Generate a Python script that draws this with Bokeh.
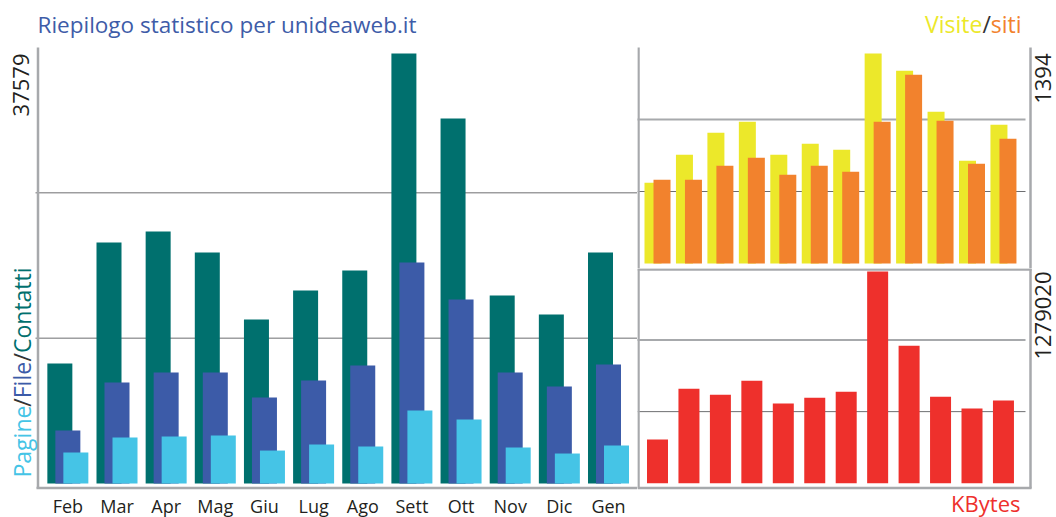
import math
from bokeh.plotting import figure
from bokeh.layouts import row, column
from bokeh.models import Range1d, Label, ColumnDataSource
from bokeh.transform import dodge
from bokeh.core.properties import value
from bokeh.embed import file_html
from bokeh.resources import INLINE

# ---------------- data ----------------
months = ["Feb", "Mar", "Apr", "Mag", "Giu", "Lug", "Ago", "Sett", "Ott", "Nov", "Dic", "Gen"]
contatti = [10490, 21060, 22030, 20190, 14330, 16870, 18620, 37579, 31900, 16430, 14770, 20190]
file_hits = [4630, 8830, 9700, 9700, 7520, 9000, 10310, 19320, 16080, 9700, 8480, 10400]
pagine = [2710, 4020, 4110, 4200, 2880, 3410, 3230, 6380, 5590, 3150, 2620, 3320]
visite = [536, 722, 868, 941, 722, 795, 755, 1394, 1279, 1007, 682, 921]
siti = [556, 556, 649, 702, 589, 649, 609, 941, 1253, 947, 662, 828]
kbytes = [263600, 571300, 535100, 619600, 480800, 517000, 553200, 1279020, 830700, 523000, 450700, 498900]

title_text = "Riepilogo statistico per unideaweb.it"
left_legend = ["Pagine", "/", "File", "/", "Contatti"]
right_legend = ["Visite", "/", "siti"]

# ---------------- style ----------------
FONT = "Open Sans"
TXT = "#231f20"
AX = "#a7a9ac"
GRID_DARK = "#6d6e71"
GRID_LIGHT = "#a7a9ac"
C_CONT = "#00706e"
C_FILE = "#3c5ba8"
C_PAG = "#45c4e6"
C_VIS = "#ece82a"
C_SITI = "#f2822d"
C_KB = "#ee302c"
C_TITLE = "#3e5ca8"
C_SLASH = "#333333"
FS = 22.0        # numbers / KBytes
FS_TITLE = 22.5
FS_LEG = 23.0    # coloured legends
MS = 18.0        # month labels
SHIFT = 0.41     # observed baseline drop of rendered text, in em
# approximate Open Sans advance widths (units per em 2048) for chained coloured labels
ADV = {"Pagine": 6302, "/": 754, "File": 3272, "Contatti": 7604, "Visite": 5046, "siti": 2732}

idx = list(range(len(months)))


def mapper(p_a, v_a, p_b, v_b):
    k = (v_b - v_a) / (p_b - p_a)
    return lambda px: v_a + (px - p_a) * k


def base_fig(width, height, xr, yr):
    p = figure(width=width, height=height, x_range=xr, y_range=yr,
               x_axis_type=None, y_axis_type=None, min_border=0,
               output_backend="svg", toolbar_location=None)
    p.outline_line_color = None
    p.background_fill_color = "white"
    p.border_fill_color = "white"
    p.grid.visible = False
    return p


def seg(p, x0, y0, x1, y1, color, width):
    p.segment(x0=[x0], y0=[y0], x1=[x1], y1=[y1], line_color=color, line_width=width)


def lab(p, text, x, y, color, angle=0.0, align="left", size=FS):
    p.add_layout(Label(x=x, y=y, text=text, angle=angle,
                       text_align=align, text_baseline="alphabetic",
                       text_color=color, text_font=FONT, text_font_size=f"{size}px"))


# ---------------- left panel: Pagine / File / Contatti ----------------
# page pixels: figure spans x 0..637, y 0..517 ; panel frame x 37..637, y 47..487
fxL = mapper(67.35, 0, 67.35 + 11 * 49.15, 11)
fyL = mapper(483, 0, 53, max(contatti))
pl = base_fig(637, 517, Range1d(fxL(0), fxL(637)), Range1d(fyL(517), fyL(0)))

# gridlines at thirds between baseline and panel top
topL = fyL(47)
for k in (1, 2):
    seg(pl, fxL(35), topL * k / 3, fxL(637), topL * k / 3, GRID_DARK, 1)
# frame lines
seg(pl, fxL(37.5), fyL(47), fxL(37.5), fyL(488), AX, 2.5)
seg(pl, fxL(36), fyL(487.5), fxL(637), fyL(487.5), AX, 2.5)

pxL = 1.0 / 49.15
src_l = ColumnDataSource(dict(x=idx, contatti=contatti, file=file_hits, pagine=pagine))
pl.vbar(x=dodge("x", -8 * pxL), top="contatti", bottom=0, width=25 * pxL, source=src_l,
        fill_color=C_CONT, line_color=None)
pl.vbar(x="x", top="file", bottom=0, width=25 * pxL, source=src_l,
        fill_color=C_FILE, line_color=None)
pl.vbar(x=dodge("x", 8 * pxL), top="pagine", bottom=0, width=25 * pxL, source=src_l,
        fill_color=C_PAG, line_color=None)

pl.text(x=idx, y=[fyL(512.5 - SHIFT * MS)] * len(idx), text=months, text_align="center",
        text_baseline="alphabetic", text_color=TXT, text_font=value(FONT),
        text_font_size=value(f"{MS}px"))

lab(pl, title_text, fxL(37), fyL(33.5 - SHIFT * FS_TITLE), C_TITLE, size=FS_TITLE)
lab(pl, str(max(contatti)), fxL(30 - SHIFT * FS), max(contatti), TXT, angle=math.pi / 2, align="right")

left_colors = [C_PAG, C_SLASH, C_FILE, C_SLASH, C_CONT]
ypix = 477.0
for t, c in zip(left_legend, left_colors):
    lab(pl, t, fxL(30.5 - SHIFT * FS_LEG), fyL(ypix), c, angle=math.pi / 2, align="left", size=FS_LEG)
    ypix -= ADV[t] * FS_LEG / 2048.0

# ---------------- right panels ----------------
fxR = mapper(657, 0, 657 + 11 * 31.45, 11)
pxR = 1.0 / 31.45
xr = Range1d(fxR(637), fxR(1056))
src_r = ColumnDataSource(dict(x=idx, visite=visite, siti=siti, kbytes=kbytes))

# top: Visite / siti  (figure y 0..268, panel y 47..268)
fyT = mapper(263, 0, 53, max(visite))
pt = base_fig(419, 268, xr, Range1d(fyT(268), fyT(0)))
topT = fyT(47)
seg(pt, fxR(637), topT / 3, fxR(1025), topT / 3, GRID_DARK, 1)
seg(pt, fxR(635), topT * 2 / 3, fxR(1025), topT * 2 / 3, GRID_LIGHT, 2)
seg(pt, fxR(638), fyT(47), fxR(638), fyT(268), AX, 2.5)
seg(pt, fxR(1030), fyT(47), fxR(1030), fyT(268), AX, 2.5)

pt.vbar(x=dodge("x", -4.5 * pxR), top="visite", bottom=0, width=17 * pxR, source=src_r,
        fill_color=C_VIS, line_color=None)
pt.vbar(x=dodge("x", 4.5 * pxR), top="siti", bottom=0, width=17 * pxR, source=src_r,
        fill_color=C_SITI, line_color=None)

right_colors = [C_VIS, C_SLASH, C_SITI]
xpix = 1021.0
for t, c in reversed(list(zip(right_legend, right_colors))):
    lab(pt, t, fxR(xpix), fyT(33 - SHIFT * FS_LEG), c, align="right", size=FS_LEG)
    xpix -= ADV[t] * FS_LEG / 2048.0
lab(pt, str(max(visite)), fxR(1051.5 - SHIFT * FS), max(visite), TXT, angle=math.pi / 2, align="right")

# bottom: KBytes  (figure y 268..517, panel y 268..487)
fyB = mapper(482.7, 0, 271, max(kbytes))
pb = base_fig(419, 249, xr, Range1d(fyB(517), fyB(268)))
topB = fyB(268)
seg(pb, fxR(637), topB / 3, fxR(1025), topB / 3, GRID_DARK, 1)
seg(pb, fxR(635), topB * 2 / 3, fxR(1025), topB * 2 / 3, GRID_LIGHT, 2)
seg(pb, fxR(637), fyB(269), fxR(1031), fyB(269), AX, 2.5)
seg(pb, fxR(638), fyB(268), fxR(638), fyB(488), AX, 2.5)
seg(pb, fxR(1030), fyB(268), fxR(1030), fyB(488), AX, 2.5)
seg(pb, fxR(637), fyB(487.5), fxR(1031), fyB(487.5), AX, 2.5)

pb.vbar(x="x", top="kbytes", bottom=0, width=21 * pxR, source=src_r,
        fill_color=C_KB, line_color=None)

lab(pb, str(max(kbytes)), fxR(1051.5 - SHIFT * FS), max(kbytes), TXT, angle=math.pi / 2, align="right")
lab(pb, "KBytes", fxR(1020), fyB(512 - SHIFT * FS), C_KB, align="right")

layout = row(pl, column(pt, pb))
open("out.html", "w").write(file_html(layout, INLINE))
